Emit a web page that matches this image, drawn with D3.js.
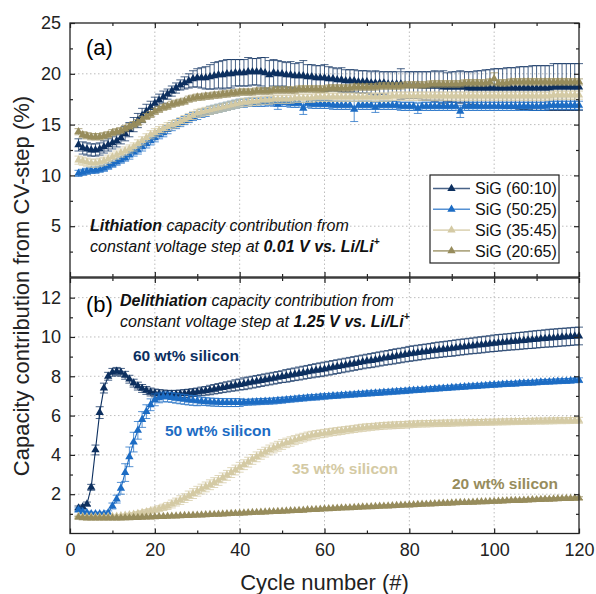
<!DOCTYPE html>
<html>
<head>
<meta charset="utf-8">
<script src="https://d3js.org/d3.v7.min.js"></script>
<style>
  body { margin: 0; background: #fff; }
  svg { font-family: "Liberation Sans", Arial, sans-serif; }
</style>
</head>
<body>
<svg id="chart" width="596" height="594"></svg>
<script>
// cycle numbers 2..120, shared by every series in both panels
const cycles = d3.range(2, 121);

const seriesNames = ["SiG (60:10)", "SiG (50:25)", "SiG (35:45)", "SiG (20:65)"];
const seriesColors = ["#0c2f5f", "#1c6cc4", "#d4caa4", "#978c5c"];

const xTicks = [0, 20, 40, 60, 80, 100, 120];
const xMinor = [10, 30, 50, 70, 90, 110];
const topTicks = [5, 10, 15, 20, 25];
const topMinor = [2.5, 7.5, 12.5, 17.5, 22.5];
const botTicks = [2, 4, 6, 8, 10, 12];
const botMinor = [1, 3, 5, 7, 9, 11];

// (a) lithiation, % capacity from CV step (rows: cycles 2-10, 11-20, ...)
const litNavy = [13.0, 12.7, 12.6, 12.5, 12.5, 12.6, 12.8, 13.0, 13.2,
  13.4, 13.7, 14.1, 14.5, 15.0, 15.4, 15.9, 16.3, 16.7, 17.1,
  17.4, 17.7, 18.0, 18.3, 18.6, 18.9, 19.1, 19.3, 19.5, 19.6,
  19.6, 19.6, 19.7, 19.8, 19.9, 19.9, 20.0, 20.0, 20.1, 20.1,
  20.1, 20.2, 20.2, 20.2, 20.2, 20.1, 19.9, 20.1, 20.0, 20.0,
  19.9, 19.9, 19.8, 19.8, 19.8, 19.7, 19.7, 19.6, 19.6, 19.6,
  19.5, 19.5, 19.4, 19.4, 19.3, 19.3, 19.3, 19.2, 19.2, 19.2,
  19.1, 19.1, 19.1, 19.1, 19.0, 19.0, 19.0, 19.0, 18.9, 18.9,
  18.9, 18.9, 18.8, 18.8, 18.8, 18.8, 18.8, 18.7, 18.7, 18.7,
  18.7, 18.7, 18.7, 18.6, 18.6, 18.6, 18.6, 18.6, 18.6, 18.6,
  18.6, 18.6, 18.6, 18.6, 18.6, 18.6, 18.6, 18.6, 18.6, 18.6,
  18.6, 18.6, 18.6, 18.7, 18.7, 18.7, 18.7, 18.7, 18.7, 18.7];
const litNavyErr = [0.6, 0.6, 0.6, 0.6, 0.6, 0.6, 0.6, 0.6, 0.6,
  0.6, 0.6, 0.7, 0.7, 0.7, 0.7, 0.7, 0.7, 0.6, 0.6,
  0.6, 0.6, 0.5, 0.5, 0.5, 0.5, 0.6, 0.7, 0.8, 0.9,
  1.0, 1.1, 1.2, 1.3, 1.3, 1.4, 1.4, 1.4, 1.3, 1.3,
  1.3, 1.4, 1.3, 1.3, 1.4, 1.5, 1.4, 1.3, 1.3, 1.2,
  1.2, 1.3, 1.2, 1.3, 1.5, 1.2, 1.2, 1.2, 1.2, 1.3,
  1.2, 1.1, 1.1, 1.2, 1.1, 1.1, 1.1, 1.1, 1.1, 1.1,
  1.1, 1.2, 1.1, 1.1, 1.2, 1.2, 1.2, 1.5, 1.3, 1.3,
  1.3, 1.3, 1.4, 1.4, 1.4, 1.5, 1.4, 1.6, 1.4, 1.5,
  1.5, 1.6, 1.5, 1.6, 1.6, 1.7, 1.7, 1.8, 1.8, 1.9,
  1.9, 1.9, 2.0, 2.0, 2.0, 2.1, 2.1, 2.1, 2.2, 2.2,
  2.2, 2.2, 2.2, 2.3, 2.3, 2.3, 2.3, 2.3, 2.3, 2.3];

const litBlue = [10.2, 10.3, 10.4, 10.5, 10.5, 10.6, 10.7, 10.9, 11.1,
  11.3, 11.5, 11.7, 12.0, 12.3, 12.5, 12.8, 13.1, 13.4, 13.7,
  14.0, 14.2, 14.5, 14.8, 15.0, 15.2, 15.4, 15.6, 15.8, 15.9,
  16.1, 16.2, 16.4, 16.5, 16.6, 16.7, 16.8, 16.9, 17.0, 17.1,
  17.1, 17.2, 17.2, 17.2, 17.2, 17.2, 17.3, 17.2, 17.0, 17.2,
  17.2, 17.1, 17.1, 17.1, 16.6, 17.1, 17.0, 17.0, 17.0, 17.0,
  17.0, 16.9, 16.9, 16.9, 16.9, 16.9, 16.5, 16.9, 16.9, 16.9,
  16.9, 16.7, 16.9, 16.9, 16.9, 16.9, 16.9, 16.8, 16.8, 16.8,
  16.8, 16.6, 16.8, 16.8, 16.8, 16.8, 16.8, 16.8, 16.8, 16.8,
  16.8, 16.3, 16.8, 16.8, 16.8, 16.8, 16.8, 16.8, 16.8, 16.8,
  16.8, 16.8, 16.8, 16.8, 16.8, 16.8, 16.8, 16.8, 16.8, 16.8,
  16.8, 16.8, 16.9, 16.9, 16.9, 16.9, 16.9, 16.9, 16.9, 16.9];
const litBlueErr = [0.3, 0.3, 0.3, 0.3, 0.3, 0.3, 0.3, 0.3, 0.3,
  0.3, 0.3, 0.3, 0.4, 0.4, 0.4, 0.4, 0.4, 0.4, 0.4,
  0.4, 0.4, 0.4, 0.4, 0.4, 0.4, 0.4, 0.4, 0.4, 0.4,
  0.4, 0.4, 0.4, 0.4, 0.4, 0.4, 0.4, 0.4, 0.4, 0.4,
  0.4, 0.4, 0.4, 0.4, 0.4, 0.4, 0.4, 0.4, 0.5, 0.4,
  0.4, 0.4, 0.4, 0.4, 0.6, 0.4, 0.4, 0.4, 0.4, 0.4,
  0.4, 0.4, 0.4, 0.4, 0.4, 0.4, 1.2, 0.4, 0.4, 0.4,
  0.4, 0.5, 0.4, 0.4, 0.4, 0.4, 0.4, 0.4, 0.4, 0.4,
  0.4, 0.5, 0.4, 0.4, 0.4, 0.4, 0.4, 0.4, 0.4, 0.4,
  0.4, 0.6, 0.4, 0.4, 0.4, 0.4, 0.4, 0.4, 0.4, 0.4,
  0.4, 0.4, 0.4, 0.4, 0.4, 0.4, 0.4, 0.4, 0.4, 0.4,
  0.4, 0.4, 0.4, 0.4, 0.4, 0.4, 0.4, 0.4, 0.4, 0.4];

const litBeige = [11.5, 11.4, 11.3, 11.2, 11.2, 11.3, 11.4, 11.6, 11.8,
  12.0, 12.2, 12.4, 12.6, 12.8, 13.1, 13.4, 13.7, 14.0, 14.2,
  14.4, 14.6, 14.8, 15.0, 15.1, 15.3, 15.5, 15.7, 15.9, 16.1,
  16.2, 16.3, 16.4, 16.5, 16.6, 16.7, 16.8, 16.9, 17.0, 17.1,
  17.2, 17.2, 17.3, 17.3, 17.4, 17.4, 17.4, 17.5, 17.5, 17.5,
  17.5, 17.5, 17.6, 17.6, 17.6, 17.6, 17.6, 17.7, 17.7, 17.7,
  17.7, 17.7, 17.7, 17.7, 17.7, 17.7, 17.7, 17.7, 17.7, 17.7,
  17.7, 17.7, 17.7, 17.7, 17.7, 17.8, 17.8, 17.8, 17.8, 17.8,
  17.8, 17.8, 17.8, 17.8, 17.8, 17.8, 17.8, 17.8, 17.8, 17.8,
  17.8, 17.8, 17.8, 17.8, 17.8, 17.8, 17.8, 17.8, 17.8, 17.8,
  17.8, 17.8, 17.8, 17.8, 17.8, 17.8, 17.8, 17.8, 17.8, 17.8,
  17.8, 17.8, 17.8, 17.9, 17.9, 17.9, 17.9, 17.9, 17.9, 17.9];
const litBeigeErr = [0.4, 0.4, 0.4, 0.4, 0.4, 0.4, 0.4, 0.4, 0.4,
  0.4, 0.4, 0.4, 0.4, 0.4, 0.4, 0.4, 0.4, 0.4, 0.4,
  0.4, 0.4, 0.4, 0.4, 0.4, 0.4, 0.4, 0.4, 0.4, 0.4,
  0.4, 0.4, 0.4, 0.4, 0.4, 0.4, 0.4, 0.4, 0.4, 0.4,
  0.4, 0.4, 0.4, 0.4, 0.4, 0.4, 0.4, 0.4, 0.4, 0.4,
  0.4, 0.4, 0.4, 0.4, 0.4, 0.4, 0.4, 0.4, 0.4, 0.4,
  0.4, 0.4, 0.4, 0.4, 0.4, 0.4, 0.4, 0.4, 0.4, 0.4,
  0.4, 0.4, 0.4, 0.4, 0.4, 0.4, 0.4, 0.4, 0.4, 0.4,
  0.4, 0.4, 0.4, 0.4, 0.4, 0.4, 0.4, 0.4, 0.4, 0.4,
  0.4, 0.4, 0.4, 0.4, 0.4, 0.4, 0.4, 0.4, 0.4, 0.4,
  0.4, 0.4, 0.4, 0.4, 0.4, 0.4, 0.4, 0.4, 0.4, 0.4,
  0.4, 0.4, 0.4, 0.4, 0.4, 0.4, 0.4, 0.4, 0.4, 0.4];

const litOlive = [14.3, 14.0, 13.9, 13.8, 13.8, 13.8, 13.9, 14.0, 14.2,
  14.3, 14.4, 14.6, 14.8, 15.0, 15.2, 15.5, 15.8, 16.0, 16.3,
  16.5, 16.7, 16.8, 17.0, 17.1, 17.2, 17.3, 17.5, 17.6, 17.7,
  17.7, 17.8, 17.8, 17.9, 17.9, 18.0, 18.0, 18.1, 18.1, 18.2,
  18.2, 18.2, 18.2, 18.3, 18.3, 18.3, 18.3, 18.4, 18.4, 18.4,
  18.4, 18.4, 18.4, 18.5, 18.5, 18.5, 18.5, 18.5, 18.5, 18.5,
  18.6, 18.6, 18.6, 18.6, 18.6, 18.6, 18.7, 18.7, 18.7, 18.7,
  18.7, 18.7, 18.8, 18.8, 18.8, 18.8, 18.8, 18.8, 18.9, 18.9,
  18.9, 18.9, 18.9, 18.9, 19.0, 19.0, 19.0, 19.0, 19.0, 19.0,
  19.0, 19.0, 19.1, 19.1, 19.1, 19.1, 19.1, 19.1, 19.2, 19.5,
  19.1, 19.1, 19.1, 19.2, 19.2, 19.2, 19.2, 19.2, 19.2, 19.2,
  19.2, 19.2, 19.2, 19.2, 19.2, 19.2, 19.2, 19.2, 19.2, 19.2];
const litOliveErr = [0.3, 0.3, 0.3, 0.3, 0.3, 0.3, 0.3, 0.3, 0.3,
  0.3, 0.3, 0.3, 0.3, 0.3, 0.3, 0.3, 0.3, 0.3, 0.3,
  0.3, 0.3, 0.3, 0.3, 0.3, 0.3, 0.3, 0.3, 0.3, 0.3,
  0.3, 0.3, 0.3, 0.3, 0.3, 0.3, 0.3, 0.3, 0.3, 0.3,
  0.3, 0.3, 0.3, 0.3, 0.3, 0.3, 0.3, 0.3, 0.3, 0.3,
  0.3, 0.3, 0.3, 0.3, 0.3, 0.3, 0.3, 0.3, 0.3, 0.3,
  0.3, 0.3, 0.3, 0.3, 0.3, 0.3, 0.3, 0.3, 0.3, 0.3,
  0.3, 0.3, 0.3, 0.3, 0.3, 0.3, 0.3, 0.3, 0.3, 0.3,
  0.3, 0.3, 0.3, 0.3, 0.3, 0.3, 0.3, 0.3, 0.3, 0.3,
  0.3, 0.3, 0.3, 0.3, 0.3, 0.3, 0.3, 0.3, 0.3, 0.6,
  0.3, 0.3, 0.3, 0.3, 0.3, 0.3, 0.3, 0.3, 0.3, 0.3,
  0.3, 0.3, 0.3, 0.3, 0.3, 0.3, 0.3, 0.3, 0.3, 0.3];

// (b) delithiation, % capacity from CV step
const delNavy = [1.3, 1.35, 1.5, 2.35, 4.25, 6.15, 7.4, 8.0, 8.2,
  8.25, 8.2, 8.05, 7.85, 7.65, 7.5, 7.38, 7.28, 7.2, 7.15,
  7.12, 7.1, 7.08, 7.08, 7.08, 7.1, 7.12, 7.14, 7.17, 7.2,
  7.23, 7.26, 7.3, 7.34, 7.38, 7.42, 7.46, 7.5, 7.54, 7.58,
  7.62, 7.66, 7.7, 7.74, 7.78, 7.82, 7.86, 7.9, 7.94, 7.98,
  8.02, 8.06, 8.1, 8.14, 8.18, 8.22, 8.26, 8.3, 8.33, 8.37,
  8.41, 8.45, 8.49, 8.53, 8.57, 8.61, 8.65, 8.69, 8.73, 8.77,
  8.8, 8.84, 8.88, 8.92, 8.95, 8.99, 9.03, 9.06, 9.1, 9.14,
  9.17, 9.2, 9.23, 9.26, 9.29, 9.32, 9.35, 9.37, 9.4, 9.42,
  9.45, 9.48, 9.5, 9.53, 9.55, 9.58, 9.6, 9.63, 9.65, 9.68,
  9.7, 9.72, 9.74, 9.76, 9.78, 9.8, 9.82, 9.84, 9.86, 9.88,
  9.9, 9.92, 9.94, 9.95, 9.97, 9.99, 10.0, 10.02, 10.04, 10.05];
const delNavyErr = [0.1, 0.1, 0.1, 0.15, 0.25, 0.3, 0.25, 0.2, 0.2,
  0.2, 0.2, 0.2, 0.2, 0.2, 0.2, 0.2, 0.2, 0.2, 0.2,
  0.2, 0.2, 0.2, 0.2, 0.2, 0.2, 0.2, 0.2, 0.2, 0.2,
  0.22, 0.22, 0.24, 0.24, 0.25, 0.25, 0.26, 0.26, 0.28, 0.28,
  0.3, 0.3, 0.3, 0.3, 0.3, 0.3, 0.3, 0.3, 0.3, 0.3,
  0.32, 0.32, 0.32, 0.33, 0.33, 0.33, 0.34, 0.34, 0.35, 0.35,
  0.35, 0.35, 0.35, 0.35, 0.35, 0.35, 0.35, 0.35, 0.35, 0.35,
  0.36, 0.36, 0.36, 0.36, 0.36, 0.37, 0.37, 0.37, 0.37, 0.38,
  0.38, 0.38, 0.38, 0.38, 0.38, 0.39, 0.39, 0.39, 0.39, 0.4,
  0.4, 0.4, 0.4, 0.4, 0.4, 0.41, 0.41, 0.41, 0.41, 0.42,
  0.42, 0.42, 0.42, 0.42, 0.43, 0.43, 0.43, 0.43, 0.44, 0.44,
  0.44, 0.44, 0.45, 0.45, 0.45, 0.45, 0.45, 0.45, 0.45, 0.45];

const delBlue = [1.2, 1.1, 1.05, 1.0, 1.0, 1.0, 1.0, 1.05, 1.4,
  1.75, 2.3, 3.1, 3.9, 4.65, 5.25, 5.8, 6.2, 6.55, 6.8,
  6.9, 6.95, 6.95, 6.92, 6.88, 6.85, 6.82, 6.79, 6.77, 6.75,
  6.73, 6.71, 6.69, 6.68, 6.67, 6.66, 6.66, 6.66, 6.66, 6.66,
  6.67, 6.68, 6.69, 6.7, 6.71, 6.72, 6.73, 6.74, 6.76, 6.78,
  6.8, 6.82, 6.84, 6.86, 6.88, 6.9, 6.92, 6.93, 6.95, 6.97,
  6.98, 7.0, 7.01, 7.03, 7.04, 7.06, 7.07, 7.09, 7.1, 7.12,
  7.13, 7.15, 7.16, 7.18, 7.19, 7.21, 7.22, 7.24, 7.25, 7.27,
  7.28, 7.3, 7.31, 7.33, 7.34, 7.36, 7.37, 7.39, 7.4, 7.42,
  7.43, 7.45, 7.46, 7.48, 7.49, 7.5, 7.52, 7.53, 7.55, 7.56,
  7.57, 7.59, 7.6, 7.61, 7.62, 7.64, 7.65, 7.66, 7.67, 7.68,
  7.7, 7.71, 7.72, 7.73, 7.74, 7.75, 7.76, 7.77, 7.79, 7.8];
const delBlueErr = [0.1, 0.1, 0.08, 0.08, 0.08, 0.08, 0.08, 0.1, 0.15,
  0.2, 0.3, 0.45, 0.5, 0.5, 0.45, 0.4, 0.35, 0.3, 0.3,
  0.25, 0.25, 0.25, 0.25, 0.25, 0.25, 0.25, 0.25, 0.25, 0.25,
  0.2, 0.2, 0.2, 0.2, 0.2, 0.2, 0.2, 0.2, 0.2, 0.2,
  0.15, 0.15, 0.15, 0.15, 0.15, 0.15, 0.15, 0.15, 0.15, 0.15,
  0.14, 0.14, 0.14, 0.14, 0.14, 0.14, 0.14, 0.14, 0.14, 0.14,
  0.13, 0.13, 0.13, 0.13, 0.13, 0.13, 0.13, 0.13, 0.13, 0.13,
  0.13, 0.13, 0.13, 0.13, 0.13, 0.13, 0.13, 0.13, 0.13, 0.13,
  0.12, 0.12, 0.12, 0.12, 0.12, 0.12, 0.12, 0.12, 0.12, 0.12,
  0.12, 0.12, 0.12, 0.12, 0.12, 0.12, 0.12, 0.12, 0.12, 0.12,
  0.12, 0.12, 0.12, 0.12, 0.12, 0.12, 0.12, 0.12, 0.12, 0.12,
  0.12, 0.12, 0.12, 0.12, 0.12, 0.12, 0.12, 0.12, 0.12, 0.12];

const delBeige = [0.88, 0.86, 0.85, 0.85, 0.85, 0.85, 0.85, 0.86, 0.87,
  0.88, 0.9, 0.92, 0.95, 0.98, 1.02, 1.06, 1.1, 1.15, 1.2,
  1.26, 1.33, 1.4, 1.5, 1.6, 1.7, 1.8, 1.92, 2.03, 2.15,
  2.26, 2.37, 2.48, 2.59, 2.7, 2.83, 2.96, 3.1, 3.23, 3.37,
  3.5, 3.63, 3.77, 3.9, 4.03, 4.14, 4.25, 4.35, 4.44, 4.53,
  4.61, 4.68, 4.75, 4.82, 4.88, 4.94, 4.99, 5.03, 5.07, 5.1,
  5.14, 5.17, 5.2, 5.23, 5.26, 5.29, 5.32, 5.35, 5.38, 5.4,
  5.42, 5.44, 5.46, 5.48, 5.49, 5.5, 5.51, 5.52, 5.53, 5.55,
  5.56, 5.57, 5.58, 5.58, 5.59, 5.6, 5.6, 5.61, 5.61, 5.62,
  5.62, 5.63, 5.63, 5.64, 5.64, 5.65, 5.65, 5.66, 5.66, 5.67,
  5.67, 5.68, 5.68, 5.69, 5.69, 5.7, 5.7, 5.71, 5.71, 5.72,
  5.72, 5.72, 5.73, 5.73, 5.74, 5.74, 5.74, 5.75, 5.75, 5.76];
const delBeigeErr = [0.05, 0.05, 0.05, 0.05, 0.05, 0.05, 0.05, 0.05, 0.05,
  0.06, 0.06, 0.07, 0.08, 0.08, 0.1, 0.1, 0.12, 0.12, 0.14,
  0.15, 0.16, 0.18, 0.2, 0.2, 0.22, 0.22, 0.24, 0.25, 0.25,
  0.25, 0.25, 0.25, 0.25, 0.25, 0.25, 0.25, 0.25, 0.25, 0.25,
  0.25, 0.25, 0.25, 0.25, 0.25, 0.25, 0.25, 0.25, 0.25, 0.25,
  0.24, 0.24, 0.23, 0.23, 0.22, 0.22, 0.21, 0.21, 0.2, 0.2,
  0.19, 0.19, 0.19, 0.19, 0.18, 0.18, 0.18, 0.18, 0.18, 0.18,
  0.17, 0.17, 0.17, 0.17, 0.17, 0.17, 0.17, 0.17, 0.17, 0.17,
  0.16, 0.16, 0.16, 0.16, 0.16, 0.16, 0.16, 0.16, 0.16, 0.16,
  0.15, 0.15, 0.15, 0.15, 0.15, 0.15, 0.15, 0.15, 0.15, 0.15,
  0.15, 0.15, 0.15, 0.15, 0.15, 0.15, 0.15, 0.15, 0.15, 0.15,
  0.15, 0.15, 0.15, 0.15, 0.15, 0.15, 0.15, 0.15, 0.15, 0.15];

const delOlive = [0.82, 0.8, 0.79, 0.78, 0.78, 0.78, 0.78, 0.78, 0.78,
  0.79, 0.79, 0.8, 0.8, 0.81, 0.81, 0.82, 0.83, 0.84, 0.85,
  0.86, 0.86, 0.87, 0.88, 0.89, 0.9, 0.91, 0.91, 0.92, 0.93,
  0.94, 0.95, 0.96, 0.97, 0.98, 0.99, 1.0, 1.01, 1.02, 1.03,
  1.04, 1.05, 1.06, 1.07, 1.08, 1.09, 1.1, 1.11, 1.12, 1.13,
  1.14, 1.15, 1.16, 1.17, 1.18, 1.2, 1.21, 1.22, 1.23, 1.25,
  1.26, 1.27, 1.28, 1.29, 1.3, 1.31, 1.32, 1.33, 1.34, 1.35,
  1.36, 1.37, 1.38, 1.39, 1.4, 1.41, 1.42, 1.43, 1.44, 1.45,
  1.46, 1.47, 1.48, 1.49, 1.5, 1.51, 1.52, 1.53, 1.54, 1.55,
  1.56, 1.57, 1.57, 1.58, 1.59, 1.6, 1.61, 1.61, 1.62, 1.63,
  1.64, 1.65, 1.66, 1.67, 1.68, 1.68, 1.69, 1.7, 1.71, 1.72,
  1.73, 1.74, 1.74, 1.75, 1.76, 1.77, 1.78, 1.78, 1.79, 1.8];
const delOliveErr = [0.05, 0.05, 0.05, 0.05, 0.05, 0.05, 0.05, 0.05, 0.05,
  0.05, 0.05, 0.05, 0.05, 0.05, 0.05, 0.05, 0.05, 0.05, 0.05,
  0.05, 0.05, 0.05, 0.05, 0.05, 0.05, 0.05, 0.05, 0.05, 0.05,
  0.05, 0.05, 0.05, 0.05, 0.05, 0.05, 0.05, 0.05, 0.05, 0.05,
  0.05, 0.05, 0.05, 0.05, 0.05, 0.05, 0.05, 0.05, 0.05, 0.05,
  0.05, 0.05, 0.05, 0.05, 0.05, 0.05, 0.05, 0.05, 0.05, 0.05,
  0.06, 0.06, 0.06, 0.06, 0.06, 0.06, 0.06, 0.06, 0.06, 0.06,
  0.06, 0.06, 0.06, 0.06, 0.06, 0.06, 0.06, 0.06, 0.06, 0.06,
  0.06, 0.06, 0.06, 0.06, 0.06, 0.06, 0.06, 0.06, 0.06, 0.06,
  0.06, 0.06, 0.06, 0.06, 0.06, 0.06, 0.06, 0.06, 0.06, 0.06,
  0.07, 0.07, 0.07, 0.07, 0.07, 0.07, 0.07, 0.07, 0.07, 0.07,
  0.07, 0.07, 0.07, 0.07, 0.07, 0.07, 0.07, 0.07, 0.07, 0.07];

const svg = d3.select("#chart");

const x = d3.scaleLinear().domain([0, 120]).range([70, 579]);
const yTop = d3.scaleLinear().domain([0, 25]).range([277, 23]);
const yBot = d3.scaleLinear().domain([0, 13]).range([533.5, 278]);

const triangle = d3.symbol().type(d3.symbolTriangle).size(30);

// draws one panel: grid, series with error bars, inward ticks and frame
function drawPanel(y, yMajor, yMinor, values, errors, showXLabels) {
	let g = svg.append("g");
	let [x0, x1] = x.range();
	let [y0, y1] = y.range();

	// dotted grid at major ticks
	g.append("g").selectAll("line")
		.data(xTicks.filter(d => d > 0 && d < 120))
		.join("line")
		.attr("x1", d => x(d)).attr("x2", d => x(d))
		.attr("y1", y0).attr("y2", y1);
	g.append("g").selectAll("line")
		.data(yMajor.filter(d => y(d) > y1 + 1))
		.join("line")
		.attr("x1", x0).attr("x2", x1)
		.attr("y1", d => y(d)).attr("y2", d => y(d));
	g.selectAll("line")
		.attr("stroke", "#bdbdbd")
		.attr("stroke-width", 1)
		.attr("stroke-dasharray", "1.5,2.5");

	values.forEach((vals, i) => {
		let color = seriesColors[i];
		let pts = vals.map((v, k) => ({c: cycles[k], v: v, e: errors[i][k]}));
		let sg = g.append("g");

		// error bars with caps
		sg.append("path")
			.attr("d", pts.map(p => {
				let px = x(p.c), hi = y(p.v + p.e), lo = y(p.v - p.e);
				return `M${px},${lo}V${hi}M${px - 4},${hi}h8M${px - 4},${lo}h8`;
			}).join(""))
			.attr("fill", "none")
			.attr("stroke", color)
			.attr("stroke-opacity", 0.75)
			.attr("stroke-width", 1);

		sg.append("path")
			.datum(pts)
			.attr("d", d3.line().x(p => x(p.c)).y(p => y(p.v)))
			.attr("fill", "none")
			.attr("stroke", color)
			.attr("stroke-width", 1.1);

		sg.selectAll(".marker")
			.data(pts)
			.join("path")
			.attr("class", "marker")
			.attr("transform", p => `translate(${x(p.c)},${y(p.v)})`)
			.attr("d", triangle)
			.attr("fill", color);
	});

	// ticks on all four sides, pointing inward
	let axes = [
		[d3.axisLeft(y).tickValues(yMajor).tickSize(-5).tickPadding(9), `translate(${x0},0)`, true],
		[d3.axisLeft(y).tickValues(yMinor).tickSize(-3).tickFormat(""), `translate(${x0},0)`, false],
		[d3.axisRight(y).tickValues(yMajor).tickSize(-5).tickFormat(""), `translate(${x1},0)`, false],
		[d3.axisRight(y).tickValues(yMinor).tickSize(-3).tickFormat(""), `translate(${x1},0)`, false],
		[d3.axisTop(x).tickValues(xTicks).tickSize(-5).tickFormat(""), `translate(0,${y1})`, false],
		[d3.axisTop(x).tickValues(xMinor).tickSize(-3).tickFormat(""), `translate(0,${y1})`, false],
		[d3.axisBottom(x).tickValues(xTicks).tickSize(-5).tickPadding(10).tickFormat(showXLabels ? d3.format("d") : ""), `translate(0,${y0})`, showXLabels],
		[d3.axisBottom(x).tickValues(xMinor).tickSize(-3).tickFormat(""), `translate(0,${y0})`, false]
	];
	for (const [axis, tr] of axes) {
		let a = g.append("g").attr("transform", tr).call(axis);
		a.select(".domain").remove();
		a.selectAll("line").attr("stroke", "#222").attr("stroke-width", 1.2);
		a.selectAll("text")
			.attr("font-family", "'Liberation Sans', Arial, sans-serif")
			.attr("font-size", 18)
			.attr("fill", "#222");
	}

	g.append("rect")
		.attr("x", x0).attr("y", y1)
		.attr("width", x1 - x0).attr("height", y0 - y1)
		.attr("fill", "none")
		.attr("stroke", "#222")
		.attr("stroke-width", 1.3);
	return g;
}

drawPanel(yTop, topTicks, topMinor,
	[litNavy, litBlue, litBeige, litOlive],
	[litNavyErr, litBlueErr, litBeigeErr, litOliveErr], false);
drawPanel(yBot, botTicks, botMinor,
	[delNavy, delBlue, delBeige, delOlive],
	[delNavyErr, delBlueErr, delBeigeErr, delOliveErr], true);

// panel letters
svg.append("text").attr("x", 86).attr("y", 55).attr("font-size", 22).text("(a)");
svg.append("text").attr("x", 86).attr("y", 312).attr("font-size", 22).text("(b)");

// italic notes with bold parts
function note(px, py, parts) {
	let t = svg.append("text")
		.attr("x", px).attr("y", py)
		.attr("font-size", 16)
		.attr("font-style", "italic")
		.attr("fill", "#111");
	for (const [str, bold] of parts) {
		t.append("tspan").attr("font-weight", bold ? "bold" : "normal").text(str);
	}
	return t;
}
note(90, 231, [["Lithiation", true], [" capacity contribution from", false]]);
note(90, 252, [["constant voltage step at ", false], ["0.01 V vs. Li/Li", true]])
	.append("tspan").attr("font-weight", "bold").attr("font-size", 10).attr("dy", -7).text("+");
note(120, 306, [["Delithiation", true], [" capacity contribution from", false]]);
note(120, 327, [["constant voltage step at ", false], ["1.25 V vs. Li/Li", true]])
	.append("tspan").attr("font-weight", "bold").attr("font-size", 10).attr("dy", -7).text("+");

// series labels in panel (b)
const seriesLabels = ["60 wt% silicon", "50 wt% silicon", "35 wt% silicon", "20 wt% silicon"];
const labelPos = [[133, 361], [165, 436], [292, 474], [452, 489]];
seriesLabels.forEach((s, i) => {
	svg.append("text")
		.attr("x", labelPos[i][0]).attr("y", labelPos[i][1])
		.attr("font-size", 15.5)
		.attr("font-weight", "bold")
		.attr("fill", seriesColors[i])
		.text(s);
});

// legend
const legend = svg.append("g").attr("transform", "translate(430,175)");
legend.append("rect")
	.attr("width", 129).attr("height", 88)
	.attr("fill", "#fff").attr("stroke", "#222").attr("stroke-width", 1.2);
seriesNames.forEach((name, i) => {
	let ly = 13.5 + i * 20.8;
	legend.append("line")
		.attr("x1", 3).attr("x2", 40).attr("y1", ly).attr("y2", ly)
		.attr("stroke", seriesColors[i]).attr("stroke-width", 1.6).attr("stroke-opacity", 0.75);
	legend.append("path")
		.attr("transform", `translate(21.5,${ly})`)
		.attr("d", triangle)
		.attr("fill", seriesColors[i]);
	legend.append("text")
		.attr("x", 45).attr("y", ly)
		.attr("dy", "0.36em")
		.attr("font-size", 16)
		.attr("fill", "#111")
		.text(name);
});

// axis titles
svg.append("text")
	.attr("transform", "translate(29,286) rotate(-90)")
	.attr("text-anchor", "middle")
	.attr("font-size", 22)
	.attr("fill", "#222")
	.text("Capacity contribution from CV-step (%)");
svg.append("text")
	.attr("x", 324.5).attr("y", 590)
	.attr("text-anchor", "middle")
	.attr("font-size", 22)
	.attr("fill", "#222")
	.text("Cycle number (#)");
</script>
</body>
</html>
